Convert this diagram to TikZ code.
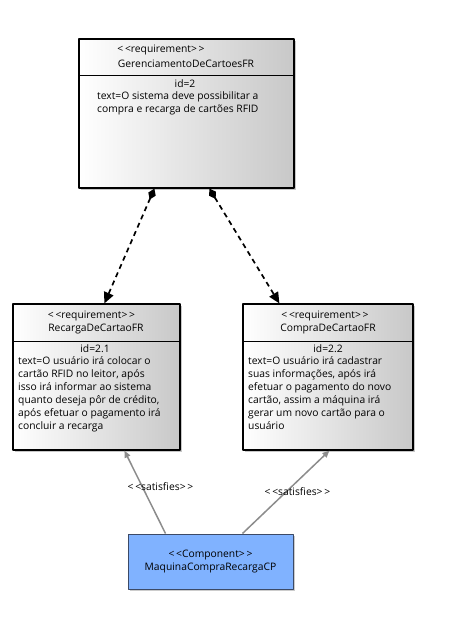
\documentclass[tikz,border=0pt]{standalone}
\usepackage{fontspec}
\setmainfont{Open Sans}
\usetikzlibrary{arrows.meta,shadows}
\definecolor{ReqGray}{HTML}{C8C8C8}
\definecolor{CompBlue}{HTML}{80B2FF}
\definecolor{CompEdge}{HTML}{3C4A66}
\definecolor{SatGray}{HTML}{8C8C8C}

\begin{document}
\begin{tikzpicture}[x=1pt,y=-1pt,line join=round,
  reqbox/.style={draw=black,line width=1.2pt,left color=white,right color=ReqGray,
    drop shadow={shadow xshift=2.2pt,shadow yshift=-2.2pt,opacity=1,fill=black!22}},
  compbox/.style={draw=CompEdge,line width=1pt,fill=CompBlue,
    drop shadow={shadow xshift=1.5pt,shadow yshift=-1.5pt,opacity=1,fill=black!20}},
  label/.style={font=\fontsize{10.3}{13}\selectfont,inner sep=0pt},
  body/.style={label,align=left},
  reqdep/.style={line width=1.7pt,dash pattern=on 5pt off 4pt,
    {Diamond[length=12pt,width=8pt]}-{Triangle[length=11pt,width=10pt]}},
  satline/.style={SatGray,line width=1.5pt,-{Triangle[length=7pt,width=6pt]}}]
  \useasboundingbox (0,0) rectangle (449,643);

  % requirements
  \node[reqbox,minimum width=215pt,minimum height=149pt] (gerenc) at (186.5,113.5) {};
  \node[label] (gerencst) at (161,50) {<\,<requirement>\,>};
  \node[label] (gerencnm) at (186,64) {GerenciamentoDeCartoesFR};
  \draw[line width=0.8pt] (gerenc.west |- 0,75) -- (gerenc.east |- 0,75);
  \node[label] (gerencid) at (185,84) {id=2};
  \node[body,anchor=north west] (gerenctx) at (97,91)
    {text=O sistema deve possibilitar a\\compra e recarga de cartões RFID};

  \node[reqbox,minimum width=167pt,minimum height=146pt] (recarga) at (96.5,377) {};
  \node[label] (recargast) at (91.5,316) {<\,<requirement>\,>};
  \node[label] (recarganm) at (96,329) {RecargaDeCartaoFR};
  \draw[line width=0.8pt] (recarga.west |- 0,341) -- (recarga.east |- 0,341);
  \node[label] (recargaid) at (95,349) {id=2.1};
  \node[body,anchor=north west] (recargatx) at (18,356)
    {text=O usuário irá colocar o\\cartão RFID no leitor, após\\isso irá informar ao sistema\\
     quanto deseja pôr de crédito,\\após efetuar o pagamento irá\\concluir a recarga};

  \node[reqbox,minimum width=170pt,minimum height=146pt] (compra) at (328,377) {};
  \node[label] (comprast) at (325,316) {<\,<requirement>\,>};
  \node[label] (compranm) at (328,329) {CompraDeCartaoFR};
  \draw[line width=0.8pt] (compra.west |- 0,341) -- (compra.east |- 0,341);
  \node[label] (compraid) at (328,349) {id=2.2};
  \node[body,anchor=north west] (compratx) at (248,356)
    {text=O usuário irá cadastrar\\suas informações, após irá\\efetuar o pagamento do novo\\
     cartão, assim a máquina irá\\gerar um novo cartão para o\\usuário};

  % component
  \node[compbox,minimum width=165pt,minimum height=55pt,label,align=center] (maquina) at (210.5,561.5)
    {<\,<Component>\,>\\MaquinaCompraRecargaCP};

  % connectors
  \draw[reqdep] ([xshift=76pt]gerenc.south west) -- ([xshift=92pt]recarga.north west);
  \draw[reqdep] ([xshift=131pt]gerenc.south west) -- ([xshift=37pt]compra.north west);
  \draw[satline] ([xshift=38pt]maquina.north west) -- ([xshift=112pt]recarga.south west)
    node[label,black,pos=0.56,xshift=18pt] {<\,<satisfies>\,>};
  \draw[satline] ([xshift=115pt]maquina.north west) -- ([xshift=87pt]compra.south west)
    node[label,black,pos=0.5,xshift=11.5pt] {<\,<satisfies>\,>};
\end{tikzpicture}
\end{document}
